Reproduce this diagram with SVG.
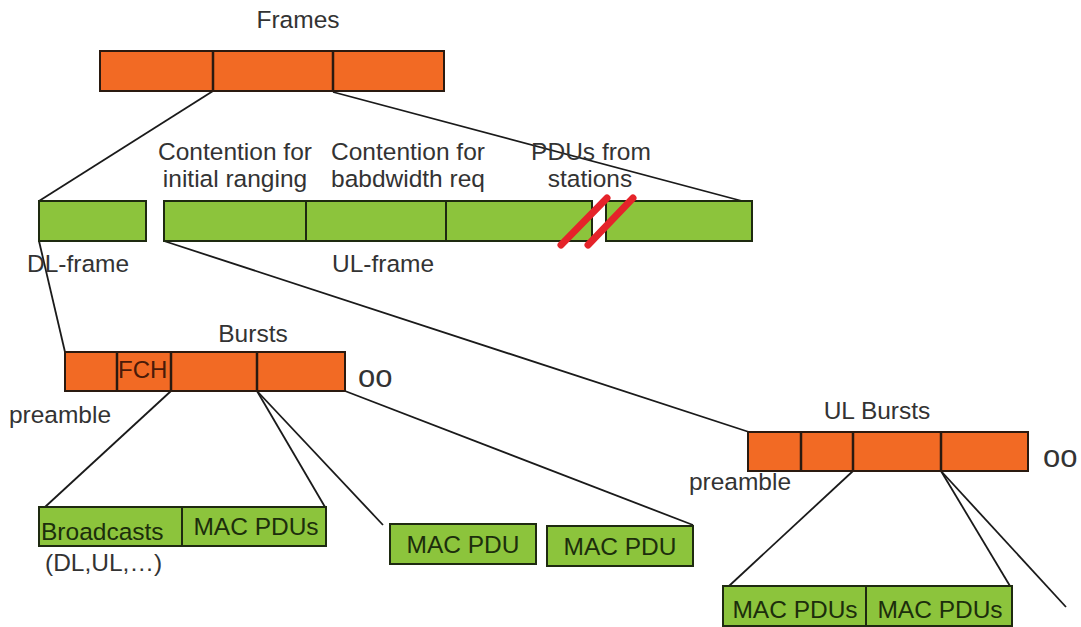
<svg xmlns="http://www.w3.org/2000/svg" width="1081" height="627" viewBox="0 0 1081 627">
<defs>
<style>
text{font-family:"Liberation Sans",Arial,sans-serif;font-size:24.5px;fill:#333}
.or{fill:#f26a24;stroke:#2a1a10;stroke-width:2}
.gr{fill:#8cc43c;stroke:#1e2a10;stroke-width:2}
.dv{stroke:#2a1a10;stroke-width:2.5}
.gd{stroke:#1e2a10;stroke-width:2}
.ln{stroke:#1a1a1a;stroke-width:1.8;fill:none}
.gt{fill:#1c2e0c}
.ot{fill:#4a1a08}
.mid{text-anchor:middle}
.inf{font-size:31px}
</style>
</defs>
<rect width="1081" height="627" fill="#ffffff"/>
<g id="connectors">
<line class="ln" x1="213" y1="91" x2="39" y2="201"/>
<line class="ln" x1="333" y1="92" x2="742" y2="201"/>
<line class="ln" x1="39" y1="241" x2="65" y2="352"/>
<line class="ln" x1="164" y1="241" x2="749" y2="432"/>
<line class="ln" x1="171" y1="391" x2="45" y2="507"/>
<line class="ln" x1="257" y1="391" x2="325" y2="507"/>
<line class="ln" x1="257" y1="391" x2="383" y2="525"/>
<line class="ln" x1="345" y1="391" x2="693" y2="525"/>
<line class="ln" x1="853" y1="471" x2="729" y2="586"/>
<line class="ln" x1="941" y1="471" x2="1010" y2="586"/>
<line class="ln" x1="941" y1="471" x2="1066" y2="607"/>
</g>
<g id="frames">
<text class="mid" x="298" y="28">Frames</text>
<rect class="or" x="100" y="51" width="344" height="40"/>
<line class="dv" x1="213" y1="51" x2="213" y2="91"/>
<line class="dv" x1="333" y1="51" x2="333" y2="91"/>
</g>
<g id="dl-frame">
<rect class="gr" x="39" y="201" width="107" height="40"/>
<text class="mid" x="78" y="272">DL-frame</text>
</g>
<g id="ul-frame">
<rect class="gr" x="164" y="201" width="428" height="40"/>
<line class="gd" x1="306" y1="201" x2="306" y2="241"/>
<line class="gd" x1="446" y1="201" x2="446" y2="241"/>
<rect class="gr" x="606" y="201" width="146" height="40"/>
<text class="mid" x="383" y="272">UL-frame</text>
<text class="mid" x="235" y="160">Contention for</text>
<text class="mid" x="235" y="187">initial ranging</text>
<text class="mid" x="408" y="160">Contention for</text>
<text class="mid" x="408" y="187">babdwidth req</text>
<text class="mid" x="591" y="160">PDUs from</text>
<text class="mid" x="590" y="187">stations</text>
<line x1="561" y1="245" x2="607" y2="198" stroke="#e5232a" stroke-width="7" stroke-linecap="round"/>
<line x1="588" y1="245" x2="633" y2="198" stroke="#e5232a" stroke-width="7" stroke-linecap="round"/>
</g>
<g id="bursts">
<text class="mid" x="253" y="342">Bursts</text>
<rect class="or" x="65" y="352" width="280" height="39"/>
<line class="dv" x1="117" y1="352" x2="117" y2="391"/>
<line class="dv" x1="171" y1="352" x2="171" y2="391"/>
<line class="dv" x1="257" y1="352" x2="257" y2="391"/>
<text class="ot" x="118" y="378" style="font-size:24px">FCH</text>
<text class="inf" x="358" y="387">oo</text>
<text class="mid" x="60" y="423">preamble</text>
</g>
<g id="broadcasts">
<rect class="gr" x="39" y="507" width="287" height="39"/>
<line class="gd" x1="182" y1="507" x2="182" y2="546"/>
<text class="gt" x="41" y="540">Broadcasts</text>
<text class="gt mid" x="256" y="535">MAC PDUs</text>
<text x="45" y="571">(DL,UL,…)</text>
</g>
<g id="mac-pdu-1">
<rect class="gr" x="390" y="524" width="146" height="40"/>
<text class="gt mid" x="463" y="553">MAC PDU</text>
</g>
<g id="mac-pdu-2">
<rect class="gr" x="547" y="526" width="146" height="40"/>
<text class="gt mid" x="620" y="555">MAC PDU</text>
</g>
<g id="ul-bursts">
<text class="mid" x="877" y="419">UL Bursts</text>
<rect class="or" x="748" y="432" width="280" height="39"/>
<line class="dv" x1="801" y1="432" x2="801" y2="471"/>
<line class="dv" x1="853" y1="432" x2="853" y2="471"/>
<line class="dv" x1="941" y1="432" x2="941" y2="471"/>
<text class="inf" x="1043" y="467">oo</text>
<text class="mid" x="740" y="490">preamble</text>
</g>
<g id="ul-mac-pdus">
<rect class="gr" x="723" y="586" width="289" height="40"/>
<line class="gd" x1="866" y1="586" x2="866" y2="626"/>
<text class="gt mid" x="795" y="618">MAC PDUs</text>
<text class="gt mid" x="940" y="618">MAC PDUs</text>
</g>
</svg>
